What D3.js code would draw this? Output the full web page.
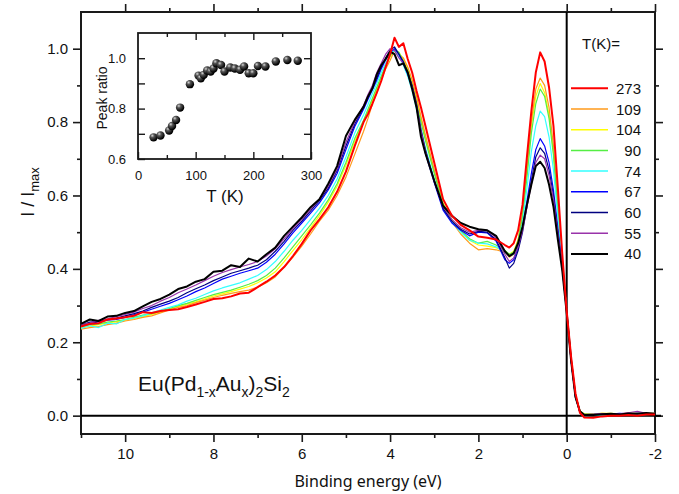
<!DOCTYPE html>
<html>
<head>
<meta charset="utf-8">
<script src="https://cdn.jsdelivr.net/npm/d3@7"></script>
<style>
  body { margin: 0; background: #fff; }
  svg text { font-family: "Liberation Sans", Arial, sans-serif; fill: #111; }
</style>
</head>
<body>
<svg id="chart" width="679" height="494"></svg>
<script>
// binding energy grid (eV)
const energy = [11.0, 10.8, 10.6, 10.4, 10.2, 10.0, 9.8, 9.6, 9.4, 9.2, 9.0, 8.8, 8.6, 8.4, 8.2, 8.0, 7.8, 7.6, 7.4, 7.2,
  7.0, 6.8, 6.6, 6.4, 6.2, 6.0, 5.8, 5.6, 5.4, 5.2, 5.0, 4.8, 4.6, 4.5, 4.4, 4.3, 4.2, 4.1, 4.0, 3.9,
  3.8, 3.7, 3.6, 3.5, 3.4, 3.3, 3.2, 3.0, 2.8, 2.6, 2.4, 2.2, 2.0, 1.8, 1.6, 1.4, 1.3, 1.2, 1.1, 1.0,
  0.9, 0.8, 0.7, 0.6, 0.5, 0.4, 0.3, 0.2, 0.1, 0.0, -0.1, -0.2, -0.3, -0.4, -0.6, -0.8, -1.0, -1.2, -1.4, -1.6,
  -1.8, -2.0];

const temps = ["273", "109", "104", "90", "74", "67", "60", "55", "40"];
const colors = ["#ff0000", "#ff9a1a", "#ffff00", "#55ee44", "#33ffff", "#0000ff", "#000080", "#9933aa", "#000000"];

const i273 = [.243, .250, .252, .262, .265, .268, .272, .282, .280, .285, .288, .290, .296, .303, .310, .318, .320, .325, .333, .335,
  .350, .365, .382, .405, .435, .468, .505, .535, .568, .610, .665, .735, .800, .822, .850, .880, .912, .950, .985, 1.030,
  1.005, 1.015, .972, .935, .885, .840, .790, .690, .590, .545, .520, .505, .488, .485, .480, .465, .458, .470, .505, .575,
  .706, .830, .935, .990, .965, .895, .790, .620, .440, .285, .160, .060, .008, -.005, -.006, -.002, .000, .000, .002, .000,
  .003, .003];
const i109 = [.236, .240, .243, .248, .252, .258, .262, .268, .272, .280, .288, .295, .300, .308, .315, .322, .328, .333, .338, .342,
  .350, .362, .378, .405, .432, .462, .495, .530, .560, .600, .650, .712, .775, .810, .850, .880, .915, .945, .968, .995,
  .985, .975, .950, .915, .870, .815, .765, .670, .575, .528, .495, .470, .452, .455, .452, .445, .432, .440, .478, .552,
  .675, .800, .890, .920, .900, .840, .735, .575, .425, .285, .155, .058, .010, .004, .005, .006, .005, .004, .006, .005,
  .006, .005];
const i104 = [.240, .244, .248, .252, .256, .260, .265, .270, .276, .282, .290, .298, .304, .310, .318, .326, .332, .338, .345, .352,
  .362, .375, .392, .420, .450, .480, .512, .545, .582, .625, .682, .748, .800, .830, .860, .890, .922, .950, .978, .995,
  .990, .970, .945, .910, .862, .810, .760, .665, .580, .535, .502, .478, .465, .462, .458, .448, .440, .448, .480, .548,
  .665, .790, .870, .905, .880, .820, .720, .565, .422, .285, .155, .055, .012, .005, .004, .006, .006, .005, .007, .006,
  .007, .006];
const i90 = [.242, .247, .250, .255, .258, .262, .268, .274, .278, .285, .292, .300, .306, .314, .322, .330, .336, .342, .350, .358,
  .368, .382, .402, .430, .460, .490, .520, .552, .588, .632, .690, .755, .805, .835, .865, .895, .925, .955, .980, .998,
  .990, .965, .940, .900, .850, .800, .750, .660, .575, .530, .505, .482, .470, .475, .465, .450, .440, .445, .475, .540,
  .650, .770, .850, .890, .870, .810, .710, .560, .420, .285, .152, .055, .012, .004, .004, .005, .004, .005, .006, .005,
  .006, .005];
const i74 = [.238, .245, .240, .252, .250, .262, .266, .272, .280, .288, .295, .302, .312, .320, .330, .340, .348, .355, .362, .372,
  .382, .398, .420, .448, .478, .505, .535, .565, .600, .645, .705, .770, .820, .848, .878, .905, .935, .960, .985, .995,
  .980, .955, .925, .885, .835, .780, .730, .645, .565, .528, .500, .478, .470, .468, .460, .445, .435, .440, .465, .525,
  .620, .720, .790, .830, .815, .760, .670, .540, .415, .285, .150, .050, .008, .000, .001, .002, .001, .003, .004, .002,
  .003, .004];
const i67 = [.245, .250, .256, .260, .262, .268, .275, .282, .290, .298, .306, .316, .326, .338, .348, .360, .372, .380, .388, .395,
  .402, .418, .440, .468, .498, .525, .552, .580, .615, .660, .725, .788, .835, .862, .888, .915, .945, .970, .990, 1.000,
  .985, .960, .930, .895, .840, .770, .715, .635, .560, .525, .505, .490, .500, .498, .476, .425, .415, .425, .458, .510,
  .585, .660, .725, .755, .735, .690, .615, .510, .405, .283, .150, .052, .010, .002, .003, .004, .004, .006, .005, .006,
  .006, .005];
const i60 = [.246, .255, .257, .262, .266, .272, .278, .285, .295, .304, .312, .322, .335, .346, .356, .368, .378, .388, .395, .402,
  .410, .425, .448, .475, .505, .530, .558, .586, .620, .668, .735, .795, .840, .868, .895, .920, .950, .975, .995, 1.005,
  .985, .965, .935, .900, .850, .780, .725, .640, .565, .530, .508, .495, .502, .500, .480, .430, .402, .415, .450, .500,
  .570, .640, .705, .730, .715, .670, .600, .500, .402, .282, .150, .050, .010, .002, .003, .004, .005, .004, .005, .006,
  .005, .004];
const i55 = [.248, .252, .260, .264, .270, .276, .282, .292, .300, .312, .322, .335, .345, .356, .368, .380, .390, .398, .405, .412,
  .420, .435, .455, .482, .510, .535, .562, .590, .625, .672, .745, .800, .845, .875, .900, .935, .960, .985, 1.000, .995,
  .975, .960, .935, .895, .845, .775, .720, .640, .570, .535, .512, .500, .505, .505, .485, .440, .420, .430, .460, .505,
  .568, .630, .690, .710, .700, .655, .590, .495, .400, .282, .152, .052, .010, .003, .004, .005, .004, .005, .008, .012,
  .006, .006];
const i40 = [.250, .262, .258, .270, .272, .280, .285, .298, .310, .318, .330, .345, .352, .365, .372, .392, .395, .410, .405, .428,
  .420, .440, .458, .490, .515, .540, .568, .590, .632, .680, .762, .806, .842, .870, .892, .930, .955, .972, .992, .985,
  .955, .960, .935, .890, .840, .760, .715, .640, .572, .545, .525, .515, .508, .505, .490, .448, .435, .442, .470, .515,
  .575, .630, .680, .692, .675, .630, .570, .480, .395, .280, .150, .050, .012, .002, .002, .004, .005, .003, .006, .005,
  .007, .005];
const spectra = [i273, i109, i104, i90, i74, i67, i60, i55, i40];

// inset: peak ratio vs temperature
const insetT = [27, 39, 54, 59, 66, 73, 90, 105, 109, 114, 120, 126, 131, 136, 144, 150, 160, 168, 177, 184, 192, 200, 208, 221, 239, 259, 277];
const insetRatio = [0.686, 0.693, 0.713, 0.731, 0.755, 0.804, 0.897, 0.931, 0.920, 0.934, 0.951, 0.947, 0.959, 0.980, 0.973, 0.947, 0.963, 0.959, 0.954, 0.967, 0.940, 0.940, 0.969, 0.967, 0.987, 0.993, 0.990];

const svg = d3.select("#chart");

const x = d3.scaleLinear().domain([11, -2]).range([81, 655]);
const y = d3.scaleLinear().domain([-0.05, 1.1]).range([434, 12]);

// frame + ticks (all outward)
const axisColor = "#1a1a1a";
const drawAxis = (gen, tx, ty, labels) => {
    const g = svg.append("g").attr("transform", `translate(${tx},${ty})`).call(gen);
    g.select(".domain").remove();
    g.selectAll("line").attr("stroke", axisColor).attr("stroke-width", 1.6);
    if (labels) {
        g.selectAll("text").style("font-size", "15px").attr("fill", "#111");
    } else {
        g.selectAll("text").remove();
    }
    return g;
}

drawAxis(d3.axisBottom(x).tickValues([10, 8, 6, 4, 2, 0, -2]).tickFormat(d => String(d)).tickSize(8).tickPadding(6), 0, 434, true);
drawAxis(d3.axisBottom(x).tickValues([11, 9, 7, 5, 3, 1, -1]).tickSize(4), 0, 434, false);
drawAxis(d3.axisTop(x).tickValues([10, 8, 6, 4, 2, 0, -2]).tickSize(8), 0, 12, false);
drawAxis(d3.axisTop(x).tickValues([9, 7, 5, 3, 1, -1]).tickSize(4), 0, 12, false);
drawAxis(d3.axisLeft(y).tickValues([0, 0.2, 0.4, 0.6, 0.8, 1.0]).tickFormat(d3.format(".1f")).tickSize(8).tickPadding(5), 81, 0, true);
drawAxis(d3.axisLeft(y).tickValues([0.1, 0.3, 0.5, 0.7, 0.9]).tickSize(4), 81, 0, false);
drawAxis(d3.axisRight(y).tickValues([0, 0.2, 0.4, 0.6, 0.8, 1.0]).tickSize(8), 655, 0, false);
drawAxis(d3.axisRight(y).tickValues([0.1, 0.3, 0.5, 0.7, 0.9]).tickSize(4), 655, 0, false);

svg.append("rect")
    .attr("x", x(11)).attr("y", y(1.1))
    .attr("width", x(-2) - x(11)).attr("height", y(-0.05) - y(1.1))
    .attr("fill", "none").attr("stroke", axisColor).attr("stroke-width", 2);

// zero lines
svg.append("line")
    .attr("x1", x(11)).attr("x2", x(-2) + 6).attr("y1", y(0)).attr("y2", y(0))
    .attr("stroke", "#000").attr("stroke-width", 2);
svg.append("line")
    .attr("x1", x(0)).attr("x2", x(0)).attr("y1", y(1.1)).attr("y2", y(-0.05))
    .attr("stroke", "#000").attr("stroke-width", 2);

// spectra
const line = d3.line().x((d, i) => x(energy[i])).y(d => y(d));
const drawOrder = [2, 1, 3, 4, 5, 6, 7, 8, 0];
drawOrder.forEach(k => {
    svg.append("path")
        .datum(spectra[k])
        .attr("d", line)
        .attr("fill", "none")
        .attr("stroke", colors[k])
        .attr("stroke-width", (k === 0 || k === 8) ? 2 : 1.2)
        .attr("stroke-linejoin", "round");
});

// legend
svg.append("text").attr("x", 582).attr("y", 49).style("font-size", "15px").text("T(K)=");
temps.forEach((t, i) => {
    const ly = 88.3 + i * 20.7;
    svg.append("line")
        .attr("x1", 571).attr("x2", 608).attr("y1", ly).attr("y2", ly)
        .attr("stroke", colors[i]).attr("stroke-width", (i === 0 || i === 8) ? 2 : 1.5);
    svg.append("text")
        .attr("x", 641).attr("y", ly + 5.5)
        .attr("text-anchor", "end").style("font-size", "15px")
        .text(t);
});

// axis titles
svg.append("text")
    .attr("x", 368).attr("y", 487)
    .attr("text-anchor", "middle")
    .style("font-family", "'Noto Sans', sans-serif").style("font-size", "16px")
    .text("Binding energy (eV)");

const yTitle = svg.append("text")
    .attr("transform", "translate(34,192) rotate(-90)")
    .attr("text-anchor", "middle")
    .style("font-size", "18px");
yTitle.append("tspan").text("I / I");
yTitle.append("tspan").attr("dy", 5).style("font-size", "13px").text("max");

// compound label
const formula = svg.append("text").attr("x", 138).attr("y", 391).style("font-size", "21px");
formula.append("tspan").text("Eu(Pd");
formula.append("tspan").attr("dy", 6).style("font-size", "14px").text("1-x");
formula.append("tspan").attr("dy", -6).text("Au");
formula.append("tspan").attr("dy", 6).style("font-size", "14px").text("x");
formula.append("tspan").attr("dy", -6).text(")");
formula.append("tspan").attr("dy", 6).style("font-size", "14px").text("2");
formula.append("tspan").attr("dy", -6).text("Si");
formula.append("tspan").attr("dy", 6).style("font-size", "14px").text("2");

// inset
const ix = d3.scaleLinear().domain([0, 300]).range([138, 311]);
const iy = d3.scaleLinear().domain([0.6, 1.1]).range([159, 33]);

const insetAxis = (gen, tx, ty, labels) => {
    const g = svg.append("g").attr("transform", `translate(${tx},${ty})`).call(gen);
    g.select(".domain").remove();
    g.selectAll("line").attr("stroke", axisColor).attr("stroke-width", 1.4);
    if (labels) {
        g.selectAll("text").style("font-size", "13px").attr("fill", "#111");
    } else {
        g.selectAll("text").remove();
    }
}
insetAxis(d3.axisBottom(ix).tickValues([0, 100, 200, 300]).tickSize(-7).tickPadding(12), 0, 159, true);
insetAxis(d3.axisBottom(ix).tickValues([50, 150, 250]).tickSize(-4), 0, 159, false);
insetAxis(d3.axisTop(ix).tickValues([100, 200]).tickSize(-7), 0, 33, false);
insetAxis(d3.axisTop(ix).tickValues([50, 150, 250]).tickSize(-4), 0, 33, false);
insetAxis(d3.axisLeft(iy).tickValues([0.6, 0.8, 1.0]).tickFormat(d3.format(".1f")).tickSize(-7).tickPadding(12), 138, 0, true);
insetAxis(d3.axisLeft(iy).tickValues([0.7, 0.9]).tickSize(-7), 138, 0, false);
insetAxis(d3.axisRight(iy).tickValues([0.7, 0.8, 0.9, 1.0]).tickSize(-7), 311, 0, false);

svg.append("rect")
    .attr("x", ix(0)).attr("y", iy(1.1))
    .attr("width", ix(300) - ix(0)).attr("height", iy(0.6) - iy(1.1))
    .attr("fill", "none").attr("stroke", axisColor).attr("stroke-width", 1.8);

svg.append("text")
    .attr("transform", "translate(107,98) rotate(-90)")
    .attr("text-anchor", "middle").style("font-size", "14px")
    .text("Peak ratio");
svg.append("text")
    .attr("x", 225).attr("y", 202)
    .attr("text-anchor", "middle").style("font-size", "17px")
    .text("T (K)");

const grad = svg.append("defs").append("radialGradient")
    .attr("id", "ball").attr("cx", "35%").attr("cy", "30%").attr("r", "65%");
grad.append("stop").attr("offset", "0%").attr("stop-color", "#d8d8d8");
grad.append("stop").attr("offset", "35%").attr("stop-color", "#555");
grad.append("stop").attr("offset", "100%").attr("stop-color", "#000");

svg.append("g").selectAll("circle")
    .data(insetT)
    .join("circle")
    .attr("cx", d => ix(d))
    .attr("cy", (d, i) => iy(insetRatio[i]))
    .attr("r", 4.2)
    .attr("fill", "url(#ball)");
</script>
</body>
</html>
